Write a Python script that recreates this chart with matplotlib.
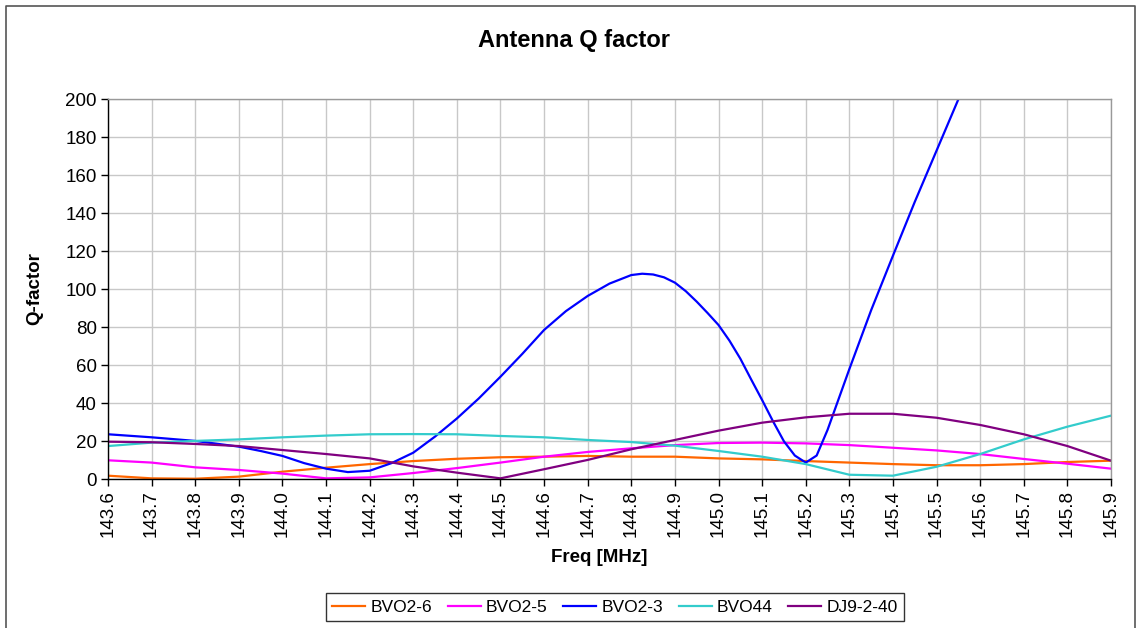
import matplotlib
matplotlib.use("Agg")
import matplotlib.pyplot as plt
from matplotlib.lines import Line2D
import numpy as np

plt.rcParams['font.family'] = ['Liberation Sans', 'DejaVu Sans']

freq = [143.6, 143.7, 143.8, 143.9, 144.0, 144.1, 144.2, 144.3, 144.4, 144.5, 144.6, 144.7,
        144.8, 144.9, 145.0, 145.1, 145.2, 145.3, 145.4, 145.5, 145.6, 145.7, 145.8, 145.9]
tick_labels = ["%.1f" % f for f in freq]

bvo2_6 = [1.9, 0.5, 0.3, 1.4, 4.0, 6.1, 8.0, 9.6, 10.8, 11.6, 11.9, 12.3,
          11.9, 11.9, 11.0, 10.5, 9.6, 8.8, 8.0, 7.4, 7.4, 8.0, 9.1, 9.8]
bvo2_5 = [10.0, 8.8, 6.3, 4.9, 3.0, 0.5, 1.0, 3.3, 5.9, 8.8, 11.9, 14.4,
          16.3, 18.0, 19.1, 19.3, 18.9, 18.0, 16.6, 15.2, 13.3, 10.7, 8.2, 5.6]
bvo44 = [17.5, 19.3, 20.2, 21.0, 22.1, 23.0, 23.7, 23.8, 23.7, 22.8, 22.1, 20.7,
         19.6, 17.7, 14.9, 11.9, 8.0, 2.4, 1.9, 6.6, 13.3, 21.0, 27.7, 33.5]
dj9_2_40 = [19.8, 19.5, 18.6, 17.5, 15.4, 13.3, 11.0, 6.8, 3.5, 0.5, 5.3, 10.2,
            15.8, 20.7, 25.6, 29.8, 32.6, 34.5, 34.5, 32.4, 28.6, 23.7, 17.5, 9.8]

bvo2_3_freq = [143.6, 143.7, 143.8, 143.9, 143.95, 144.0, 144.05, 144.1, 144.15, 144.2,
               144.25, 144.3, 144.35, 144.4, 144.45, 144.5, 144.55, 144.6, 144.65, 144.7,
               144.75, 144.8, 144.825, 144.85, 144.875, 144.9, 144.925, 144.95, 144.975, 145.0,
               145.025, 145.05, 145.075, 145.1, 145.125,
               145.15, 145.175, 145.2, 145.225, 145.25, 145.275, 145.3, 145.35, 145.4, 145.45,
               145.5, 145.55, 145.6]
bvo2_3 = [23.7, 22.1, 20.2, 17.2, 14.9, 12.3, 8.5, 5.6, 3.8, 4.5,
          8.5, 14.0, 22.5, 32.0, 42.5, 54.0, 66.0, 78.6, 88.5, 96.5,
          103.0, 107.5, 108.2, 107.8, 106.3, 103.5, 99.0, 93.5, 87.5, 81.2,
          73.0, 63.5, 52.5, 41.7, 30.5,
          20.0, 12.5, 8.8, 12.5, 26.0, 42.0, 58.0, 89.0, 117.7, 146.0,
          173.0, 200.0, 228.0]

W, H = 1138, 628
fig = plt.figure(figsize=(W / 100, H / 100), dpi=100)
fig.patch.set_facecolor('white')

ax = fig.add_axes([108 / W, 1 - 479.3 / H, (1111 - 108) / W, (479.3 - 99.3) / H])
lw = 1.6
ax.plot(freq, bvo2_6, color='#FF6600', lw=lw, label='BVO2-6')
ax.plot(freq, bvo2_5, color='#FF00FF', lw=lw, label='BVO2-5')
ax.plot(bvo2_3_freq, bvo2_3, color='#0000FF', lw=lw, label='BVO2-3')
ax.plot(freq, bvo44, color='#33CCCC', lw=lw, label='BVO44')
ax.plot(freq, dj9_2_40, color='#800080', lw=lw, label='DJ9-2-40')

ax.set_xlim(freq[0], freq[-1])
ax.set_ylim(0, 200)
ax.set_xticks(freq)
ax.set_xticklabels(tick_labels, rotation=90, fontsize=13.5)
ax.set_yticks(np.arange(0, 201, 20))
ax.tick_params(axis='y', labelsize=13.5, length=5, width=1, direction='out', pad=3)
ax.tick_params(axis='x', length=5, width=1, direction='out', pad=3)
ax.grid(True, color='#C8C8C8', lw=1)
ax.set_axisbelow(True)
for s in ['top', 'right']:
    ax.spines[s].set_color('#999999')
    ax.spines[s].set_linewidth(1)
for s in ['left', 'bottom']:
    ax.spines[s].set_color('#000000')
    ax.spines[s].set_linewidth(1)

fig.text(574.5 / W, 1 - 46.7 / H, 'Antenna Q factor', ha='center', va='baseline',
         fontsize=17, fontweight='bold')
fig.text(35 / W, 1 - 289 / H, 'Q-factor', ha='center', va='center', rotation=90,
         fontsize=13.5, fontweight='bold')
fig.text(599 / W, 1 - 558 / H, 'Freq [MHz]', ha='center', va='center',
         fontsize=13.5, fontweight='bold')

leg = fig.legend(loc='center', bbox_to_anchor=(615 / W, 1 - 607 / H), ncol=5,
                 fontsize=12.5, frameon=True, fancybox=False, handlelength=1.9,
                 handletextpad=0.3, columnspacing=0.9, borderpad=0.35, borderaxespad=0)
leg.get_frame().set_edgecolor('black')
leg.get_frame().set_linewidth(1)

# figure border
fig.add_artist(Line2D([6 / W, 6 / W, 1135 / W, 1135 / W], [0, 1 - 6 / H, 1 - 6 / H, 0],
                      color='#555555', lw=1.2, transform=fig.transFigure))

fig.savefig('out.png', dpi=100)
